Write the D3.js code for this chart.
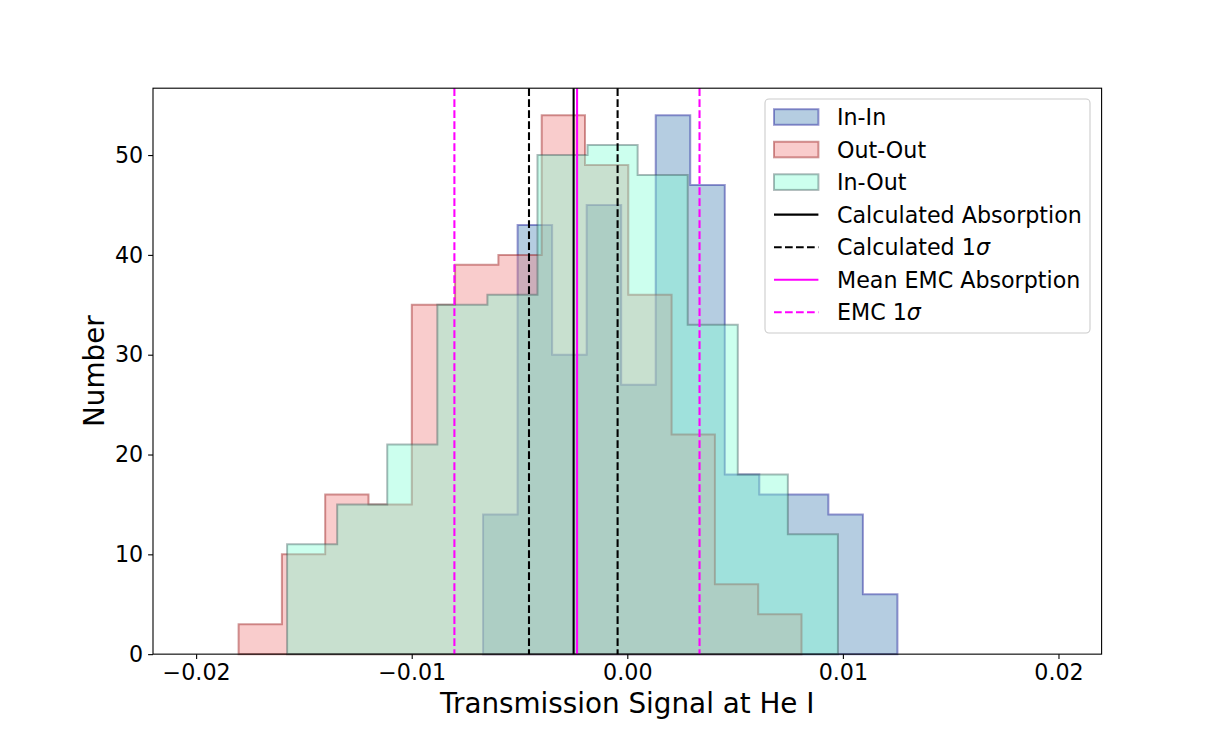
<!DOCTYPE html>
<html>
<head>
<meta charset="utf-8">
<script src="https://cdn.jsdelivr.net/npm/d3@7"></script>
<style>
  html, body { margin: 0; padding: 0; background: #fff; }
  svg { display: block; font-family: "DejaVu Sans", sans-serif; }
</style>
</head>
<body>
<svg id="chart" width="1224" height="735"></svg>
<script>
// ---------------- data ----------------
const xTicks = [-0.02, -0.01, 0.0, 0.01, 0.02];
const xTickLabels = ["\u22120.02", "\u22120.01", "0.00", "0.01", "0.02"];
const yTicks = [0, 10, 20, 30, 40, 50];

const seriesNames = ["In-In", "Out-Out", "In-Out"];
const inInCounts   = [14, 43, 30, 45, 27, 54, 47, 18, 16, 16, 14, 6];
const inInRange    = [-0.00669, 0.01253];
const outOutCounts = [3, 10, 16, 15, 35, 39, 40, 54, 49, 36, 22, 7, 4];
const outOutRange  = [-0.01803, 0.00808];
const inOutCounts  = [11, 15, 21, 35, 36, 50, 51, 48, 33, 18, 12];
const inOutRange   = [-0.01578, 0.00977];

const calcAbsorption = -0.00249;
const calcSigma = [-0.00456, -0.00045];
const emcMean = -0.00233;
const emcSigma = [-0.00802, 0.00335];

const xDomain = [-0.022, 0.022];
const yDomain = [0, 56.7];

const legendLabels = ["In-In", "Out-Out", "In-Out", "Calculated Absorption",
  "Calculated 1\u03C3", "Mean EMC Absorption", "EMC 1\u03C3"];

// ---------------- layout ----------------
const svg = d3.select("#chart");
const L = 153, R = 1101.6, T = 88.2, B = 654.15;
const x = d3.scaleLinear().domain(xDomain).range([L, R]);
const y = d3.scaleLinear().domain(yDomain).range([B, T]);
const FS = 22.2, LFS = 27.8;

const styles = [
  { fill: "steelblue", stroke: "darkblue" },
  { fill: "lightcoral", stroke: "darkred" },
  { fill: "aquamarine", stroke: "darkslategray" }
];
const hists = [
  { counts: inInCounts, range: inInRange },
  { counts: outOutCounts, range: outOutRange },
  { counts: inOutCounts, range: inOutRange }
];

const plot = svg.append("g");
hists.forEach((h, i) => {
  const n = h.counts.length;
  const w = (h.range[1] - h.range[0]) / n;
  const pts = [[h.range[0], 0]];
  h.counts.forEach((c, k) => {
    pts.push([h.range[0] + k * w, c]);
    pts.push([h.range[0] + (k + 1) * w, c]);
  });
  pts.push([h.range[1], 0]);
  const line = d3.line().x(d => x(d[0])).y(d => y(d[1]));
  plot.append("path")
    .attr("d", line(pts) + "Z")
    .attr("fill", styles[i].fill).attr("fill-opacity", 0.4)
    .attr("stroke", styles[i].stroke).attr("stroke-opacity", 0.4)
    .attr("stroke-width", 2).attr("stroke-linejoin", "miter");
});

// vertical lines
const vlines = [
  { v: calcAbsorption, color: "black", dash: null },
  { v: calcSigma[0], color: "black", dash: "7.7,3.3" },
  { v: calcSigma[1], color: "black", dash: "7.7,3.3" },
  { v: emcMean, color: "magenta", dash: null },
  { v: emcSigma[0], color: "magenta", dash: "7.7,3.3" },
  { v: emcSigma[1], color: "magenta", dash: "7.7,3.3" }
];
vlines.forEach(l => {
  plot.append("line")
    .attr("x1", x(l.v)).attr("x2", x(l.v))
    .attr("y1", T).attr("y2", B)
    .attr("stroke", l.color).attr("stroke-width", 2.08)
    .attr("stroke-dasharray", l.dash);
});

// axes
const xAxis = d3.axisBottom(x).tickValues(xTicks)
  .tickFormat((d, i) => xTickLabels[i]).tickSize(4.9).tickPadding(4.9);
const yAxis = d3.axisLeft(y).tickValues(yTicks)
  .tickFormat(d3.format("d")).tickSize(4.9).tickPadding(4.9);

const gx = svg.append("g").attr("transform", `translate(0,${B})`).call(xAxis);
const gy = svg.append("g").attr("transform", `translate(${L},0)`).call(yAxis);
[gx, gy].forEach(g => {
  g.select(".domain").remove();
  g.selectAll(".tick line").attr("stroke", "black").attr("stroke-width", 1.1);
  g.selectAll(".tick text").attr("font-size", FS).attr("fill", "black")
    .attr("font-family", "DejaVu Sans");
});
gx.selectAll(".tick text").attr("dy", "0.74em");

// frame
svg.append("rect").attr("x", L).attr("y", T).attr("width", R - L).attr("height", B - T)
  .attr("fill", "none").attr("stroke", "black").attr("stroke-width", 1.1);

// axis labels
svg.append("text").attr("x", (L + R) / 2).attr("y", 713)
  .attr("text-anchor", "middle").attr("font-size", LFS).text("Transmission Signal at He I");
svg.append("text").attr("transform", `translate(104,${(T + B) / 2}) rotate(-90)`)
  .attr("text-anchor", "middle").attr("font-size", LFS).text("Number");

// legend
const lg = svg.append("g");
lg.append("rect").attr("x", 765).attr("y", 99).attr("width", 325).attr("height", 234)
  .attr("rx", 4).attr("fill", "white").attr("fill-opacity", 0.8)
  .attr("stroke", "#cccccc").attr("stroke-width", 1.1);
const rowY = i => 117 + i * 32.55;
legendLabels.forEach((lab, i) => {
  const cy = rowY(i);
  if (i < 3) {
    lg.append("rect").attr("x", 774).attr("y", cy - 7.8).attr("width", 44.4).attr("height", 15.6)
      .attr("fill", styles[i].fill).attr("fill-opacity", 0.4)
      .attr("stroke", styles[i].stroke).attr("stroke-opacity", 0.4).attr("stroke-width", 2);
  } else {
    const color = (i < 5) ? "black" : "magenta";
    const dashed = (i === 4 || i === 6);
    lg.append("line").attr("x1", 774).attr("x2", 818.4).attr("y1", cy).attr("y2", cy)
      .attr("stroke", color).attr("stroke-width", 2.08)
      .attr("stroke-dasharray", dashed ? "7.7,3.3" : null);
  }
  const t = lg.append("text").attr("x", 837).attr("y", cy).attr("dy", "0.36em")
    .attr("font-size", FS).attr("fill", "black");
  if (lab.endsWith("\u03C3")) {
    t.append("tspan").text(lab.slice(0, -1));
    t.append("tspan").attr("font-style", "italic").text("\u03C3");
  } else {
    t.text(lab);
  }
});
</script>
</body>
</html>
